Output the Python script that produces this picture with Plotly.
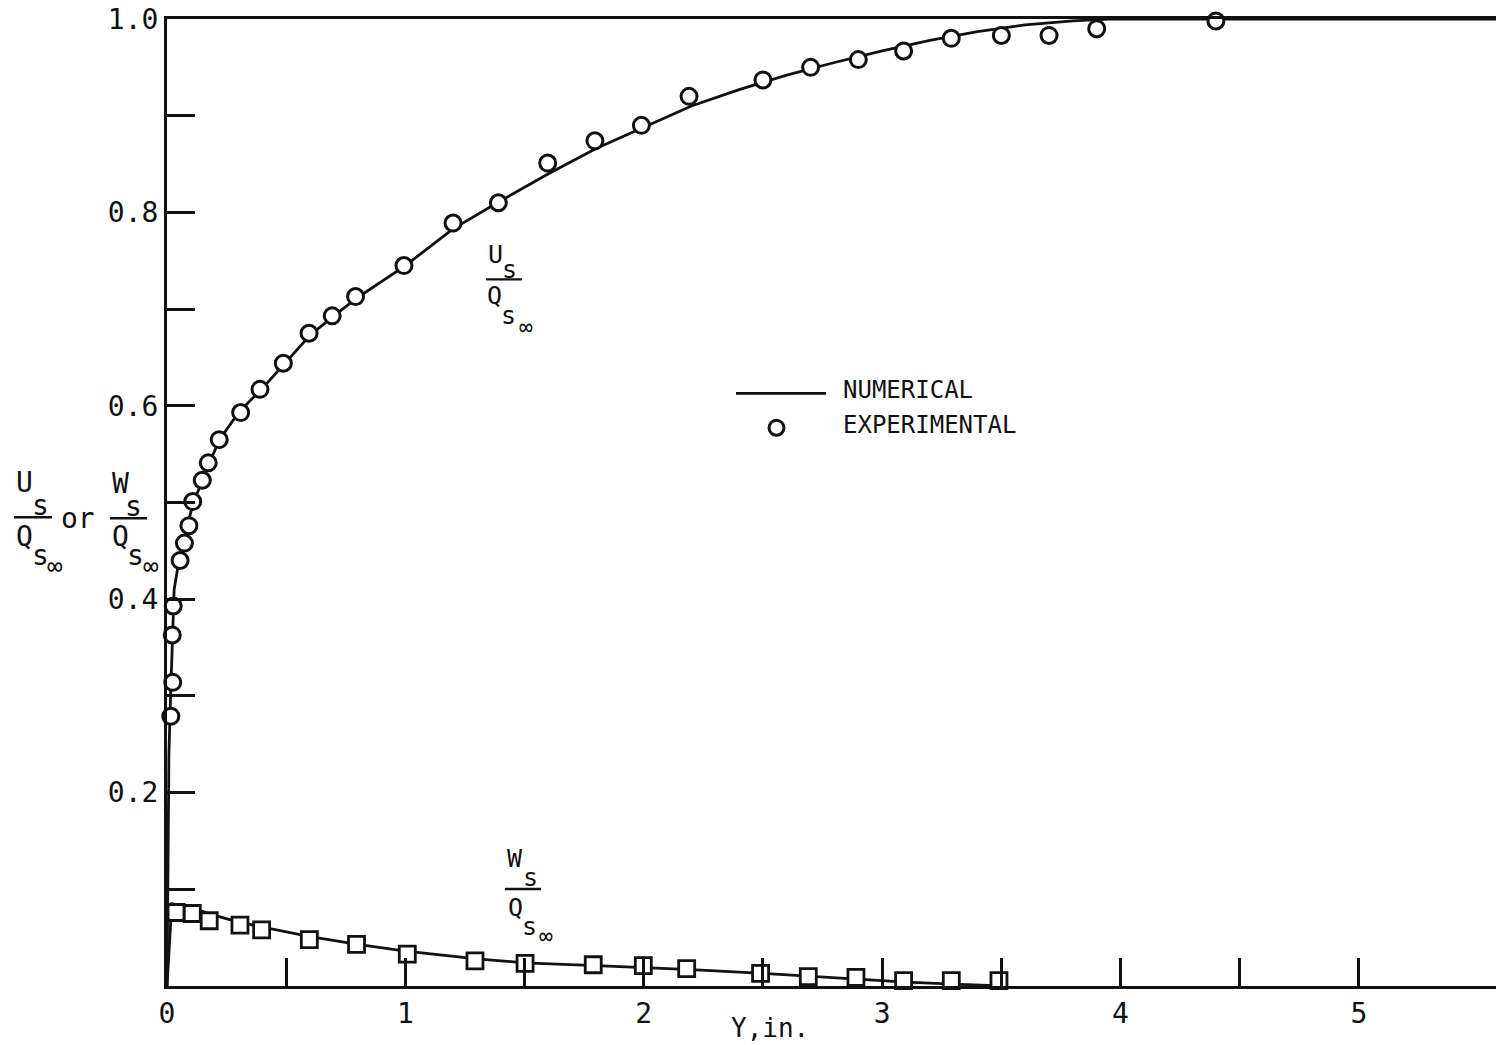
import plotly.graph_objects as go

# Streamwise (U) and crossflow (W) velocity profiles, normalised by Q_s_inf
u_exp_x = [0.016, 0.024, 0.022, 0.026, 0.055, 0.073, 0.092, 0.108, 0.148, 0.173,
           0.219, 0.309, 0.390, 0.488, 0.596, 0.693, 0.791, 0.994, 1.20, 1.39,
           1.597, 1.795, 1.99, 2.19, 2.50, 2.70, 2.90, 3.09, 3.29, 3.50, 3.70,
           3.90, 4.40]
u_exp_y = [0.279, 0.314, 0.363, 0.393, 0.440, 0.458, 0.476, 0.501, 0.523, 0.541,
           0.565, 0.593, 0.617, 0.644, 0.675, 0.693, 0.713, 0.745, 0.789, 0.810,
           0.851, 0.874, 0.890, 0.920, 0.937, 0.950, 0.958, 0.967, 0.980, 0.983,
           0.983, 0.990, 0.998]

w_exp_x = [0.038, 0.106, 0.177, 0.306, 0.397, 0.597, 0.795, 1.008, 1.292, 1.502,
           1.788, 1.998, 2.18, 2.49, 2.69, 2.89, 3.09, 3.29, 3.49]
w_exp_y = [0.076, 0.075, 0.0675, 0.063, 0.058, 0.048, 0.043, 0.033, 0.026, 0.0235,
           0.022, 0.021, 0.018, 0.013, 0.0096, 0.009, 0.0055, 0.0055, 0.0055]

u_num_x = [0, 0.004, 0.008, 0.015, 0.022, 0.03, 0.05, 0.07, 0.09, 0.11, 0.15, 0.18,
           0.22, 0.3, 0.4, 0.5, 0.6, 0.7, 0.8, 1.0, 1.2, 1.4, 1.6, 1.8, 2.0, 2.2,
           2.4, 2.6, 2.8, 3.0, 3.2, 3.4, 3.6, 3.8, 3.95, 5.6]
u_num_y = [0, 0.15, 0.24, 0.30, 0.36, 0.41, 0.44, 0.46, 0.48, 0.50, 0.523, 0.542,
           0.565, 0.593, 0.618, 0.645, 0.673, 0.693, 0.712, 0.745, 0.783, 0.812,
           0.840, 0.866, 0.888, 0.910, 0.927, 0.942, 0.955, 0.967, 0.978, 0.987,
           0.994, 0.998, 1.0, 1.0]

w_num_x = [0, 0.02, 0.1, 0.2, 0.3, 0.4, 0.6, 0.8, 1.0, 1.3, 1.5, 1.8, 2.0, 2.2,
           2.5, 2.7, 2.9, 3.1, 3.3, 3.5]
w_num_y = [0, 0.085, 0.081, 0.073, 0.066, 0.061, 0.051, 0.043, 0.036, 0.028,
           0.024, 0.021, 0.019, 0.017, 0.013, 0.010, 0.007, 0.004, 0.002, 0.0]

x_tick_vals = [0, 0.5, 1, 1.5, 2, 2.5, 3, 3.5, 4, 4.5, 5]
x_tick_text = ["0", "", "1", "", "2", "", "3", "", "4", "", "5"]
y_tick_vals = [0, 0.1, 0.2, 0.3, 0.4, 0.5, 0.6, 0.7, 0.8, 0.9, 1.0]
y_tick_text = ["", "", "0.2", "", "0.4", "", "0.6", "", "0.8", "", "1.0"]

W, H = 1496, 1045
L, R, T, B = 167, 1496, 18.5, 986
X_MAX = 5.575

FONT = "DejaVu Sans Mono"
INK = "#111111"


def px(x):
    return (x - L) / (R - L)


def py(y):
    return (B - y) / (B - T)


fig = go.Figure()

fig.add_trace(go.Scatter(x=u_num_x, y=u_num_y, mode="lines",
                         line=dict(color=INK, width=2.8), cliponaxis=False,
                         showlegend=False))
fig.add_trace(go.Scatter(x=w_num_x, y=w_num_y, mode="lines",
                         line=dict(color=INK, width=2.8), cliponaxis=False,
                         showlegend=False))
fig.add_trace(go.Scatter(x=u_exp_x, y=u_exp_y, mode="markers",
                         marker=dict(symbol="circle", size=16, color="white",
                                     line=dict(color=INK, width=3)),
                         cliponaxis=False, showlegend=False))
fig.add_trace(go.Scatter(x=w_exp_x, y=w_exp_y, mode="markers",
                         marker=dict(symbol="square", size=16, color="white",
                                     line=dict(color=INK, width=2.8)),
                         cliponaxis=False, showlegend=False))

annotations = []
shapes = []


def text_at(s, x, y, size, anchor="center"):
    annotations.append(dict(text=s, x=px(x), y=py(y), xref="paper", yref="paper",
                            xanchor=anchor, yanchor="middle", showarrow=False,
                            font=dict(family=FONT, size=size, color=INK)))


def bar(x0, x1, y):
    shapes.append(dict(type="line", xref="paper", yref="paper",
                       x0=px(x0), x1=px(x1), y0=py(y), y1=py(y),
                       line=dict(color=INK, width=2.4)))


def fraction(top, x, y, size, width, offs):
    # letter_s over Q_s_inf; x is the bar's left end, y the bar height (pixels)
    (tx, ty), (sx, sy), (qx, qy), (s2x, s2y), (ix, iy) = offs
    text_at(top, x + tx, y + ty, size)
    text_at("s", x + sx, y + sy, size)
    bar(x, x + width, y)
    text_at("Q", x + qx, y + qy, size)
    text_at("s", x + s2x, y + s2y, size)
    text_at("∞", x + ix, y + iy, size - 2)


# curve labels
fraction("U", 486, 279, 25, 36,
         [(9, -25), (23, -10), (8, 16), (22, 36), (40, 48)])
fraction("W", 505, 889, 25, 36,
         [(10, -31), (25, -12), (10, 18), (24, 37), (41, 47)])

# axis title on the left
fraction("U", 14, 517, 28, 38,
         [(10, -35), (26, -12), (10, 19), (26, 38), (41, 49)])
text_at("or", 78, 518, 28)
fraction("W", 110, 518, 28, 37,
         [(10, -35), (23, -12), (10, 18), (25, 37), (41, 48)])

# x-axis title
text_at("Y,in.", 770, 1028, 26)

# legend
shapes.append(dict(type="line", xref="paper", yref="paper",
                   x0=px(736), x1=px(826), y0=py(393), y1=py(393),
                   line=dict(color=INK, width=2.8)))
shapes.append(dict(type="circle", xref="paper", yref="paper",
                   x0=px(769), x1=px(784), y0=py(420), y1=py(435),
                   line=dict(color=INK, width=3)))
text_at("NUMERICAL", 841, 390, 24, anchor="left")
text_at("EXPERIMENTAL", 841, 425, 24, anchor="left")

fig.update_layout(
    width=W, height=H,
    margin=dict(l=L, r=W - R, t=T, b=H - B, pad=0),
    paper_bgcolor="white", plot_bgcolor="white",
    font=dict(family=FONT, size=27, color=INK),
    annotations=annotations, shapes=shapes,
    xaxis=dict(range=[0, X_MAX], showgrid=False, zeroline=False,
               showline=True, linecolor=INK, linewidth=3, mirror=True,
               ticks="inside", ticklen=28, tickwidth=3, tickcolor=INK,
               tickvals=x_tick_vals, ticktext=x_tick_text,
               tickfont=dict(family=FONT, size=28, color=INK)),
    yaxis=dict(range=[0, 1.0], showgrid=False, zeroline=False,
               showline=True, linecolor=INK, linewidth=3,
               ticks="inside", ticklen=28, tickwidth=3, tickcolor=INK,
               tickvals=y_tick_vals, ticktext=y_tick_text,
               tickfont=dict(family=FONT, size=28, color=INK)),
)

fig.write_html("out.html")
